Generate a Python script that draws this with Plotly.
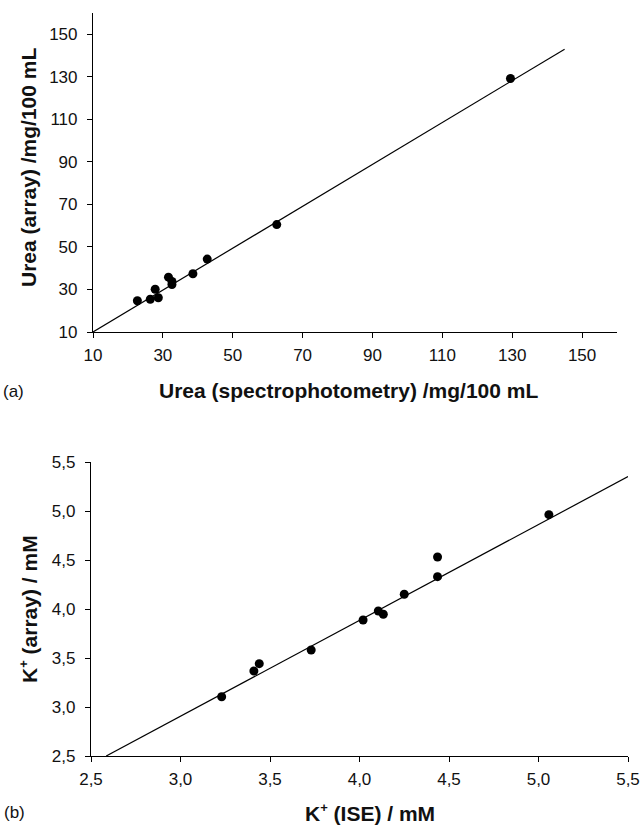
import plotly.graph_objects as go

# Panel (a): urea
urea_spec = [22.7, 26.4, 27.8, 28.7, 31.6, 32.6, 32.6, 38.6, 42.7, 62.6, 129.5]
urea_array = [24.7, 25.4, 30.1, 26.1, 35.8, 33.8, 32.3, 37.4, 44.3, 60.5, 129.2]
urea_fit_x = [10, 145]
urea_fit_y = [10, 143]
urea_ticks = [10, 30, 50, 70, 90, 110, 130, 150]

# Panel (b): potassium
k_ise = [3.23, 3.41, 3.44, 3.73, 4.02, 4.105, 4.133, 4.25, 4.436, 4.436, 5.058]
k_array = [3.105, 3.367, 3.442, 3.582, 3.888, 3.98, 3.946, 4.15, 4.33, 4.531, 4.963]
k_fit_x = [2.585, 5.5]
k_fit_y = [2.5, 5.351]
k_ticks = [2.5, 3.0, 3.5, 4.0, 4.5, 5.0, 5.5]
k_ticklabels = ["2,5", "3,0", "3,5", "4,0", "4,5", "5,0", "5,5"]

W, H = 643, 825
FONT = "Liberation Sans, Arial, sans-serif"

fig = go.Figure()
marker = dict(color="black", size=9)
line = dict(color="black", width=1.2)

fig.add_trace(go.Scatter(x=urea_fit_x, y=urea_fit_y, mode="lines", line=line,
                         xaxis="x", yaxis="y", showlegend=False))
fig.add_trace(go.Scatter(x=urea_spec, y=urea_array, mode="markers", marker=marker,
                         xaxis="x", yaxis="y", showlegend=False))
fig.add_trace(go.Scatter(x=k_fit_x, y=k_fit_y, mode="lines", line=line,
                         xaxis="x2", yaxis="y2", showlegend=False))
fig.add_trace(go.Scatter(x=k_ise, y=k_array, mode="markers", marker=marker,
                         xaxis="x2", yaxis="y2", showlegend=False))

axis_common = dict(showline=True, linecolor="black", linewidth=1.2, showgrid=False,
                   zeroline=False, ticks="outside", ticklen=5, tickcolor="black",
                   tickwidth=1.2, automargin=False,
                   tickfont=dict(family=FONT, size=17, color="#111"))
xaxis_common = dict(axis_common, ticklabelstandoff=2)
yaxis_common = dict(axis_common, ticklabelstandoff=6)

def px_x(p):
    return p / W

def px_y(p):
    return 1 - p / H

fig.update_layout(
    width=W, height=H,
    margin=dict(l=0, r=0, t=0, b=0, autoexpand=False),
    paper_bgcolor="white", plot_bgcolor="white",
    font=dict(family=FONT, color="black"),
    xaxis=dict(domain=[px_x(93), px_x(617)], range=[10, 160], anchor="y",
               tickvals=urea_ticks, **xaxis_common),
    yaxis=dict(domain=[px_y(332), px_y(13)], range=[10, 160], anchor="x",
               tickvals=urea_ticks, **yaxis_common),
    xaxis2=dict(domain=[px_x(91), px_x(628)], range=[2.5, 5.5], anchor="y2",
                tickvals=k_ticks, ticktext=k_ticklabels, **xaxis_common),
    yaxis2=dict(domain=[px_y(756), px_y(462)], range=[2.5, 5.5], anchor="x2",
                tickvals=k_ticks, ticktext=k_ticklabels, **yaxis_common),
)

title_font = dict(family=FONT, size=21, color="#111")
label_font = dict(family=FONT, size=17, color="#111")
kplus = "K<sup><span style='font-size:13px'>+</span></sup>"
ann = [
    dict(text="<b>Urea (spectrophotometry) /mg/100 mL</b>", x=px_x(348), y=px_y(391)),
    dict(text="<b>Urea (array) /mg/100 mL</b>", x=px_x(29), y=px_y(168), textangle=-90),
    dict(text="(a)", x=px_x(13), y=px_y(392), font=label_font),
    dict(text=f"<b>{kplus} (ISE) / mM</b>", x=px_x(370), y=px_y(812)),
    dict(text=f"<b>{kplus} (array) / mM</b>", x=px_x(28), y=px_y(609), textangle=-90),
    dict(text="(b)", x=px_x(14), y=px_y(812), font=label_font),
]
for a in ann:
    a.setdefault("font", title_font)
    fig.add_annotation(xref="paper", yref="paper", showarrow=False,
                       xanchor="center", yanchor="middle", **a)

fig.write_html("out.html")
